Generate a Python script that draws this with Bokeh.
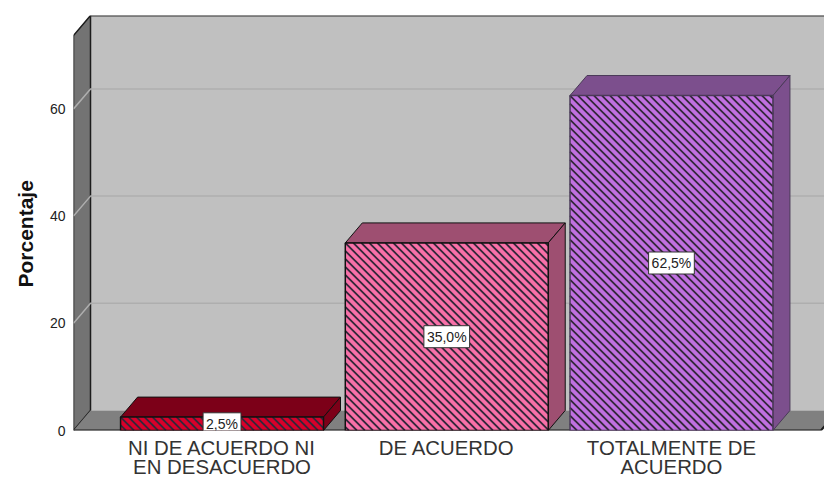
from bokeh.embed import file_html
from bokeh.models import ColumnDataSource, FixedTicker, Label, Range1d, Title
from bokeh.plotting import figure
from bokeh.resources import INLINE

categories = ["NI DE ACUERDO NI\nEN DESACUERDO", "DE ACUERDO", "TOTALMENTE DE\nACUERDO"]
percentages = [2.5, 35.0, 62.5]
value_labels = ["2,5%", "35,0%", "62,5%"]
face_colors = ["#d8002a", "#f870a8", "#c070e0"]
side_colors = ["#7c0018", "#9e4f71", "#7c4f8d"]
bar_edges = ["#111111", "#111111", "#4a3a58"]
y_ticks = [0, 20, 40, 60]

AXIS_TOP = 73.7
DEPTH_X = 0.0757
DEPTH_Y = 3.73
BAR_WIDTH = 0.903
X_MIN, X_MAX = -0.661, 2.681
FRAME_W, FRAME_H = 751, 415
HATCH_PERIOD = 8

p = figure(width=824, height=479, frame_width=FRAME_W, frame_height=FRAME_H,
           output_backend="svg", toolbar_location=None,
           x_range=Range1d(X_MIN, X_MAX), y_range=Range1d(0, AXIS_TOP + DEPTH_Y),
           min_border_left=73, min_border_right=0, min_border_top=15, min_border_bottom=0)
p.grid.visible = False
p.outline_line_color = None
p.background_fill_color = "white"

x_left, x_right = X_MIN, 2.665
wall = "#c0c0c0"
side = "#737373"
floor = "#808080"
edge = "#1c1c1c"

# back wall, side wall and floor of the box
p.patch([x_left + DEPTH_X, x_right + DEPTH_X + 0.1, x_right + DEPTH_X + 0.1, x_left + DEPTH_X],
        [DEPTH_Y, DEPTH_Y, AXIS_TOP + DEPTH_Y, AXIS_TOP + DEPTH_Y],
        fill_color=wall, line_color=None)
p.patch([x_left, x_left + DEPTH_X, x_left + DEPTH_X, x_left],
        [0, DEPTH_Y, AXIS_TOP + DEPTH_Y, AXIS_TOP],
        fill_color=side, line_color=edge, line_width=1.5)
p.patch([x_left, x_left + DEPTH_X, x_right + DEPTH_X, x_right],
        [0, DEPTH_Y, DEPTH_Y, 0],
        fill_color=floor, line_color=None)
p.line([x_left + DEPTH_X, x_right + DEPTH_X + 0.1], [AXIS_TOP + DEPTH_Y] * 2, line_color="#333333", line_width=2)
p.line([x_left, x_right, x_right + DEPTH_X], [0, 0, DEPTH_Y], line_color=edge, line_width=2)

# gridlines wrap from the side wall onto the back wall
for t in y_ticks[1:]:
    p.line([x_left, x_left + DEPTH_X, x_right + DEPTH_X + 0.1], [t, t + DEPTH_Y, t + DEPTH_Y],
           line_color="#aeaeae", line_width=1.5)

# each bar: top and side faces first, then the front
for i, v in enumerate(percentages):
    l, r = i - BAR_WIDTH / 2, i + BAR_WIDTH / 2
    p.patch([l, l + DEPTH_X, r + DEPTH_X, r], [v, v + DEPTH_Y, v + DEPTH_Y, v],
            fill_color=side_colors[i], line_color=bar_edges[i], line_width=1)
    p.patch([r, r + DEPTH_X, r + DEPTH_X, r], [0, DEPTH_Y, v + DEPTH_Y, v],
            fill_color=side_colors[i], line_color=bar_edges[i], line_width=1)

source = ColumnDataSource(dict(x=[0, 1, 2], top=percentages, color=face_colors, edge=bar_edges))
p.vbar(x="x", top="top", bottom=0, width=BAR_WIDTH, source=source, fill_color="color", line_color=None)


def stripes(left, right, top):
    """45-degree stripes running down to the right, clipped to a bar's front face."""
    px_x = FRAME_W / (X_MAX - X_MIN)
    px_y = FRAME_H / (AXIS_TOP + DEPTH_Y)
    w, h = (right - left) * px_x, top * px_y
    xs0, ys0, xs1, ys1 = [], [], [], []
    c = -int(h / HATCH_PERIOD) * HATCH_PERIOD
    while c < w:
        a, b = max(0, c), min(w, h + c)
        xs0.append(left + a / px_x)
        ys0.append(top - (a - c) / px_y)
        xs1.append(left + b / px_x)
        ys1.append(top - (b - c) / px_y)
        c += HATCH_PERIOD
    return xs0, ys0, xs1, ys1


for i, v in enumerate(percentages):
    x0, y0, x1, y1 = stripes(i - BAR_WIDTH / 2, i + BAR_WIDTH / 2, v)
    p.segment(x0, y0, x1, y1, line_color="#33283a", line_width=1.8)

p.vbar(x="x", top="top", bottom=0, width=BAR_WIDTH, source=source, fill_color=None,
       line_color="edge", line_width=1.5)

# value boxes centred on the front faces
for i, v in enumerate(percentages):
    p.add_layout(Label(x=i, y=v / 2, text=value_labels[i], text_align="center", text_baseline="middle",
                       text_font="Liberation Sans", text_font_size="14px", text_color="#222222",
                       background_fill_color="white", border_line_color="#333333", border_line_width=1,
                       padding=3))

ax = p.yaxis[0]
ax.ticker = FixedTicker(ticks=y_ticks)
ax.bounds = (0, AXIS_TOP)
ax.axis_line_color = None
ax.major_tick_line_color = None
ax.minor_tick_line_color = None
ax.major_label_text_font = "Liberation Sans"
ax.major_label_text_font_size = "14px"
ax.major_label_text_color = "#222222"
ax.major_label_standoff = 2

# the axis title sits lower than the frame centre
p.add_layout(Title(text="Porcentaje", align="left", offset=143, standoff=20,
                   text_font="Liberation Sans", text_font_size="21px",
                   text_font_style="bold", text_color="#111111"), "left")

xa = p.xaxis[0]
xa.ticker = FixedTicker(ticks=[0, 1, 2])
xa.major_label_overrides = {i: c for i, c in enumerate(categories)}
xa.axis_line_color = None
xa.major_tick_line_color = None
xa.minor_tick_line_color = None
xa.major_label_text_font = "Liberation Sans"
xa.major_label_text_font_size = "20.4px"
xa.major_label_text_line_height = 0.88
xa.major_label_text_color = "#333333"
xa.major_label_standoff = 0

open("out.html", "w").write(file_html(p, INLINE))
